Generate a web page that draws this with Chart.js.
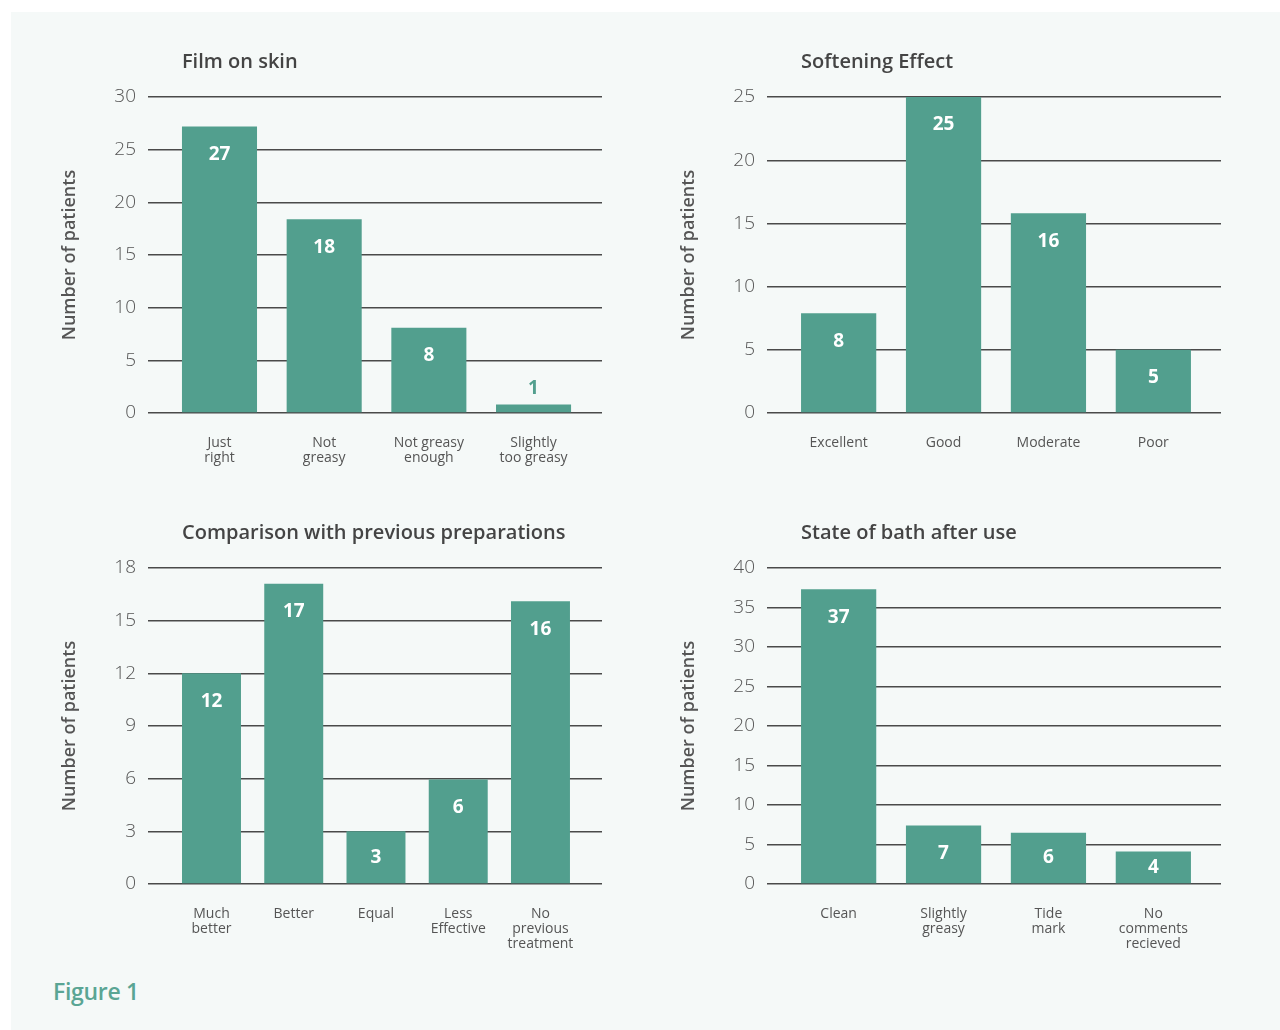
<!DOCTYPE html>
<html lang="en">
<head>
    <meta charset="UTF-8">
    <title>Figure 1</title>
    <script src="https://cdn.jsdelivr.net/npm/chart.js"></script>
    <style>
        body {
            margin: 0;
            background: #ffffff;
            font-family: 'Open Sans', sans-serif;
        }
        .page {
            position: relative;
            width: 1280px;
            height: 1030px;
            overflow: hidden;
        }
        .panel {
            position: absolute;
            left: 11px;
            top: 12px;
            right: 0;
            bottom: 0;
            background: #f5f9f8;
        }
        canvas {
            position: absolute;
        }
        .figure-label {
            position: absolute;
            left: 53px;
            top: 975px;
            font-size: 23px;
            font-weight: 600;
            color: #5aa594;
            letter-spacing: -0.3px;
        }
    </style>
</head>
<body>
<div class="page">
    <div class="panel"></div>
    <canvas id="film" width="640" height="500" style="left:0;top:0"></canvas>
    <canvas id="soften" width="640" height="500" style="left:619px;top:0"></canvas>
    <canvas id="compare" width="640" height="500" style="left:0;top:471px"></canvas>
    <canvas id="bath" width="640" height="500" style="left:619px;top:471px"></canvas>
    <div class="figure-label">Figure 1</div>
</div>

<script>
    // data
    const filmCategories = [['Just', 'right'], ['Not', 'greasy'], ['Not greasy', 'enough'], ['Slightly', 'too greasy']];
    const filmValues = [27.2, 18.4, 8.1, 0.8];
    const filmLabels = [27, 18, 8, 1];

    const softenCategories = ['Excellent', 'Good', 'Moderate', 'Poor'];
    const softenValues = [7.9, 25, 15.8, 5];
    const softenLabels = [8, 25, 16, 5];

    const compareCategories = [['Much', 'better'], 'Better', 'Equal', ['Less', 'Effective'], ['No', 'previous', 'treatment']];
    const compareValues = [12, 17.1, 3, 5.95, 16.1];
    const compareLabels = [12, 17, 3, 6, 16];

    const bathCategories = ['Clean', ['Slightly', 'greasy'], ['Tide', 'mark'], ['No', 'comments', 'recieved']];
    const bathValues = [37.3, 7.4, 6.5, 4.1];
    const bathLabels = [37, 7, 6, 4];

    const BAR_COLOR = '#529f8e';
    const TEXT_COLOR = '#555555';
    const FONT = 'Open Sans';

    // title above the plot, starting at the left edge of the first bar
    const panelTitle = {
        id: 'panelTitle',
        afterDraw(chart, args, opts) {
            const bar = chart.getDatasetMeta(0).data[0];
            const ctx = chart.ctx;
            ctx.save();
            ctx.font = '600 20px ' + FONT;
            ctx.fillStyle = '#444444';
            ctx.textBaseline = 'middle';
            ctx.textAlign = 'left';
            ctx.fillText(opts.text, bar.x - bar.width / 2, chart.chartArea.top - 35);
            ctx.restore();
        }
    };

    // numbers on the bars
    const barValues = {
        id: 'barValues',
        afterDatasetsDraw(chart, args, opts) {
            const ctx = chart.ctx;
            ctx.save();
            ctx.font = 'bold 19px ' + FONT;
            ctx.textAlign = 'center';
            ctx.textBaseline = 'middle';
            chart.getDatasetMeta(0).data.forEach((bar, i) => {
                const h = bar.base - bar.y;
                let y;
                if (h < 24) {
                    ctx.fillStyle = BAR_COLOR;
                    y = bar.y - 16;
                } else {
                    ctx.fillStyle = '#ffffff';
                    y = Math.min(bar.y + 28, (bar.y + bar.base) / 2);
                }
                ctx.fillText(String(opts.labels[i]), bar.x, y);
            });
            ctx.restore();
        }
    };

    function makeChart(id, title, categories, values, labels, yMax, yStep, xMin, xMax) {
        new Chart(document.getElementById(id), {
            type: 'bar',
            data: {
                datasets: [{
                    data: values.map((v, i) => ({ x: i, y: v })),
                    backgroundColor: BAR_COLOR,
                    borderWidth: 0,
                    categoryPercentage: 1,
                    barPercentage: 0.717
                }]
            },
            options: {
                responsive: false,
                animation: false,
                layout: {
                    padding: { left: 59, right: 38, top: 97, bottom: 7 }
                },
                plugins: {
                    legend: { display: false },
                    tooltip: { enabled: false },
                    panelTitle: { text: title },
                    barValues: { labels: labels }
                },
                scales: {
                    x: {
                        type: 'linear',
                        min: xMin,
                        max: xMax,
                        offset: false,
                        grid: { display: false },
                        border: { display: false },
                        afterBuildTicks: (scale) => {
                            scale.ticks = categories.map((c, i) => ({ value: i }));
                        },
                        afterFit: (scale) => { scale.height = 80; },
                        ticks: {
                            autoSkip: false,
                            maxRotation: 0,
                            padding: 15,
                            color: TEXT_COLOR,
                            font: { family: FONT, size: 14, lineHeight: 1.07 },
                            callback: (v) => categories[v]
                        }
                    },
                    y: {
                        min: 0,
                        max: yMax,
                        afterFit: (scale) => { scale.width = 89; },
                        grid: {
                            color: '#4a4a4a',
                            lineWidth: 1.4,
                            drawTicks: false
                        },
                        border: { display: false },
                        ticks: {
                            stepSize: yStep,
                            padding: 12,
                            color: TEXT_COLOR,
                            font: { family: FONT, size: 19, weight: 300 }
                        },
                        title: {
                            display: true,
                            text: 'Number of patients',
                            color: TEXT_COLOR,
                            padding: 0,
                            font: { family: FONT, size: 18, weight: 600 }
                        }
                    }
                }
            },
            plugins: [panelTitle, barValues]
        });
    }

    makeChart('film', 'Film on skin', filmCategories, filmValues, filmLabels, 30, 5, -0.683, 3.654);
    makeChart('soften', 'Softening Effect', softenCategories, softenValues, softenLabels, 25, 5, -0.683, 3.645);
    makeChart('compare', 'Comparison with previous preparations', compareCategories, compareValues, compareLabels, 18, 3, -0.772, 4.748);
    makeChart('bath', 'State of bath after use', bathCategories, bathValues, bathLabels, 40, 5, -0.683, 3.645);
</script>
</body>
</html>
